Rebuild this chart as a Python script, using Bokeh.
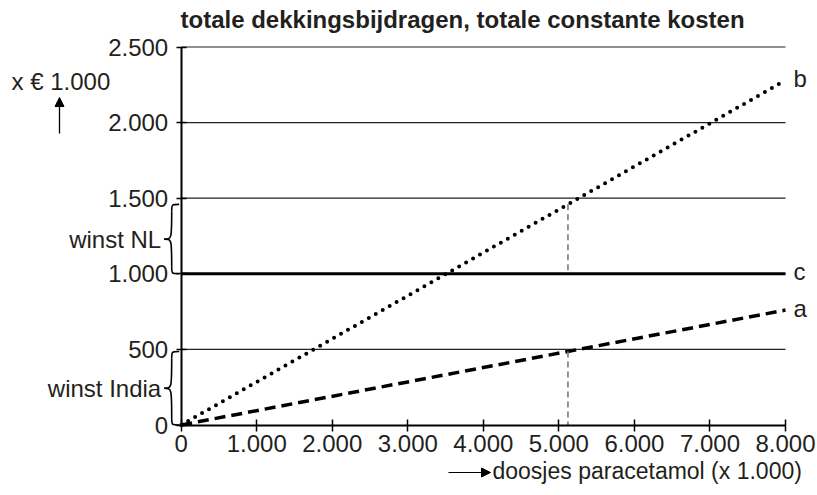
from bokeh.plotting import figure
from bokeh.models import Range1d, Arrow, NormalHead, FixedTicker
from bokeh.core.properties import value
from bokeh.embed import file_html
from bokeh.resources import INLINE
import numpy as np

# ---- data ----
title_text = "totale dekkingsbijdragen, totale constante kosten"
x_ticks = [0, 1000, 2000, 3000, 4000, 5000, 6000, 7000, 8000]
x_tick_labels = ["0", "1.000", "2.000", "3.000", "4.000", "5.000", "6.000", "7.000", "8.000"]
y_ticks = [0, 500, 1000, 1500, 2000, 2500]
y_tick_labels = ["0", "500", "1.000", "1.500", "2.000", "2.500"]
qty = [0, 8000]
line_a = [0, 760]
line_b = [0, 2280]
line_c = [1000, 1000]
line_names = ["a", "b", "c"]
q_mark = 5120
y_unit_label = "x € 1.000"
x_label = "doosjes paracetamol (x 1.000)"
brace_labels = ["winst NL", "winst India"]

FONT = "Liberation Sans"
FS = "24px"

# pixel geometry (canvas = frame)
W, H = 817, 495
x0_px, x8_px = 180.7, 785.0      # canvas px of x=0 and x=8000
y0_px, y25_px = 424.5, 46.5      # canvas px of y=0 and y=2500
sx = (x8_px - x0_px) / 8000.0
sy = (y0_px - y25_px) / 2500.0
x_start = -x0_px / sx
x_end = (W - x0_px) / sx
y_end = y0_px / sy
y_start = -(H - y0_px) / sy
BASE_FIX = 8  # alphabetic-baseline correction (px)


def px_x(px):
    return (px - x0_px) / sx


def px_y(py):
    return (y0_px - py) / sy


p = figure(width=W, height=H, min_border=0, toolbar_location=None,
           output_backend="svg", x_range=Range1d(x_start, x_end),
           y_range=Range1d(y_start, y_end), outline_line_color=None)
p.background_fill_color = "white"
p.border_fill_color = "white"

# axes
for ax in (p.xaxis[0], p.yaxis[0]):
    ax.fixed_location = 0
    ax.axis_line_width = 2
    ax.axis_line_color = "black"
    ax.major_tick_line_width = 1.5
    ax.major_tick_line_color = "black"
    ax.minor_tick_line_color = None
    ax.major_label_text_font = FONT
    ax.major_label_text_font_size = FS
    ax.major_label_text_color = "#231f20"

p.xaxis.ticker = FixedTicker(ticks=x_ticks)
p.xaxis.major_label_overrides = {t: l for t, l in zip(x_ticks, x_tick_labels)}
p.xaxis.bounds = (x_ticks[0], x_ticks[-1])
p.xaxis.major_tick_in = 6
p.xaxis.major_tick_out = 6
p.xaxis.major_label_standoff = 4

p.yaxis.ticker = FixedTicker(ticks=y_ticks)
p.yaxis.major_label_overrides = {t: l for t, l in zip(y_ticks, y_tick_labels)}
p.yaxis.bounds = (y_ticks[0], y_ticks[-1])
p.yaxis.major_tick_in = 5
p.yaxis.major_tick_out = 5
p.yaxis.major_label_standoff = 8

p.xgrid.visible = False
p.ygrid.visible = False

# horizontal grid lines between x=0 and x=8000
gy = y_ticks[1:]
p.segment(x0=[x_ticks[0]] * len(gy), y0=gy, x1=[x_ticks[-1]] * len(gy), y1=gy,
          line_color="#222222", line_width=1.2)

# lines
p.line(qty, line_c, line_color="black", line_width=3)
p.line(qty, line_a, line_color="black", line_width=3.5, line_dash="11 6")
p.line(qty, line_b, line_color="black", line_width=4, line_dash="0 8", line_cap="round")

# vertical markers
a_q = float(np.interp(q_mark, qty, line_a))
b_q = float(np.interp(q_mark, qty, line_b))
c_q = float(np.interp(q_mark, qty, line_c))
p.segment(x0=[q_mark, q_mark], y0=[b_q, a_q], x1=[q_mark, q_mark], y1=[c_q, 0],
          line_color="#7a7a7a", line_width=1.6, line_dash="6 4")

# line-end labels
ends = [line_a[-1], line_b[-1], line_c[-1]]
p.text(x=[qty[-1] + 8 / sx] * 3, y=[e + 2 / sy for e in ends], text=line_names,
       text_font=value(FONT), text_font_size=FS, text_color="#231f20",
       text_align="left", text_baseline="middle")

# braces
brace_lo = [c_q, 0.0]
brace_hi = [b_q, a_q]
xa, xs, xt = -2 / sx, -9.5 / sx, -17 / sx
hh = 7 / sy
bx0, by0, bx1, by1, bcx0, bcy0, bcx1, bcy1 = ([] for _ in range(8))
for lo, hi in zip(brace_lo, brace_hi):
    mid = (lo + hi) / 2
    segs = [
        ((xa, hi), (xs, hi - hh), (xs, hi), (xs, hi)),
        ((xs, hi - hh), (xt, mid), (xs, mid), (xs, mid)),
        ((xt, mid), (xs, lo + hh), (xs, mid), (xs, mid)),
        ((xs, lo + hh), (xa, lo), (xs, lo), (xs, lo)),
    ]
    for (s, e, c0, c1) in segs:
        bx0.append(s[0]); by0.append(s[1]); bx1.append(e[0]); by1.append(e[1])
        bcx0.append(c0[0]); bcy0.append(c0[1]); bcx1.append(c1[0]); bcy1.append(c1[1])
p.bezier(x0=bx0, y0=by0, x1=bx1, y1=by1, cx0=bcx0, cy0=bcy0, cx1=bcx1, cy1=bcy1,
         line_color="black", line_width=1.6)
p.text(x=[xt - 3 / sx] * 2, y=[(l + h) / 2 for l, h in zip(brace_lo, brace_hi)],
       text=brace_labels, text_font=value(FONT), text_font_size=FS,
       text_color="#231f20", text_align="right", text_baseline="middle")

# title
p.text(x=[px_x(180)], y=[px_y(27 - BASE_FIX)], text=[title_text], text_font=value(FONT),
       text_font_size=FS, text_font_style="bold", text_color="#231f20",
       text_align="left", text_baseline="alphabetic")

# y unit label + arrow
p.text(x=[px_x(11)], y=[px_y(88.5 - BASE_FIX)], text=[y_unit_label],
       text_font=value(FONT), text_font_size=FS, text_color="#231f20",
       text_align="left", text_baseline="alphabetic")
p.add_layout(Arrow(end=NormalHead(size=9, fill_color="black", line_color="black"),
                   x_start=px_x(59), y_start=px_y(133),
                   x_end=px_x(59), y_end=px_y(97),
                   line_width=1.3, line_color="black"))

# x label + arrow
p.add_layout(Arrow(end=NormalHead(size=9, fill_color="black", line_color="black"),
                   x_start=px_x(448), y_start=px_y(472),
                   x_end=px_x(490), y_end=px_y(472),
                   line_width=1.2, line_color="black"))
p.text(x=[px_x(492)], y=[px_y(478 - BASE_FIX)], text=[x_label],
       text_font=value(FONT), text_font_size="23px", text_color="#231f20",
       text_align="left", text_baseline="alphabetic")

open("out.html", "w").write(file_html(p, INLINE))
